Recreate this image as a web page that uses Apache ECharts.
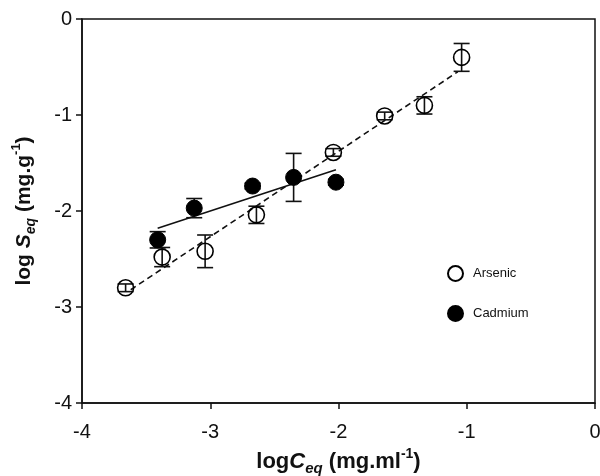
<!DOCTYPE html>
<html>
<head>
<meta charset="utf-8">
<script src="https://cdn.jsdelivr.net/npm/echarts@6/dist/echarts.min.js"></script>
<style>
html,body{margin:0;padding:0;background:#fff;}
#c{width:600px;height:476px;}
</style>
</head>
<body>
<div id="c"></div>
<script>
// ---- data ----
var arsenicX = [-3.66, -3.375, -3.04, -2.64, -2.04, -1.64, -1.33, -1.04];
var arsenicY = [-2.80, -2.48, -2.42, -2.04, -1.39, -1.01, -0.90, -0.40];
var arsenicErr = [0.04, 0.10, 0.17, 0.09, 0.04, 0.04, 0.09, 0.145];

var cadmiumX = [-3.41, -3.125, -2.67, -2.35, -2.02];
var cadmiumY = [-2.30, -1.97, -1.74, -1.65, -1.70];
var cadmiumErr = [0.085, 0.10, 0.03, 0.25, 0.03];

var arsenicFitX = [-3.62, -1.07];
var arsenicFitY = [-2.82, -0.55];
var cadmiumFitX = [-3.41, -2.02];
var cadmiumFitY = [-2.18, -1.57];

var xTicks = [-4, -3, -2, -1, 0];
var yTicks = [-4, -3, -2, -1, 0];

function pairs(xs, ys) { return xs.map(function (x, i) { return [x, ys[i]]; }); }
function errData(xs, ys, es) { return xs.map(function (x, i) { return [x, ys[i] - es[i], ys[i] + es[i]]; }); }

function errRender(params, api) {
  var x = api.value(0);
  var lo = api.coord([x, api.value(1)]);
  var hi = api.coord([x, api.value(2)]);
  var hw = 8;
  var st = { stroke: '#111', lineWidth: 1.6 };
  return {
    type: 'group',
    children: [
      { type: 'line', shape: { x1: lo[0], y1: lo[1], x2: hi[0], y2: hi[1] }, style: st },
      { type: 'line', shape: { x1: lo[0] - hw, y1: lo[1], x2: lo[0] + hw, y2: lo[1] }, style: st },
      { type: 'line', shape: { x1: hi[0] - hw, y1: hi[1], x2: hi[0] + hw, y2: hi[1] }, style: st }
    ]
  };
}

var font = '"Liberation Sans", Arial, sans-serif';
function makeRich(fs) {
  var lh = Math.round(fs * 1.2);
  return {
    b: { fontFamily: font, fontWeight: 'bold', fontSize: fs, color: '#111', lineHeight: lh, verticalAlign: 'bottom' },
    bi: { fontFamily: font, fontWeight: 'bold', fontStyle: 'italic', fontSize: fs, color: '#111', lineHeight: lh, verticalAlign: 'bottom' },
    sub: { fontFamily: font, fontWeight: 'bold', fontStyle: 'italic', fontSize: Math.round(fs * 0.68), color: '#111', lineHeight: lh, verticalAlign: 'bottom', padding: [0, 0, -3, 0] },
    sup: { fontFamily: font, fontWeight: 'bold', fontSize: Math.round(fs * 0.64), color: '#111', lineHeight: lh, verticalAlign: 'top' }
  };
}

var chart = echarts.init(document.getElementById('c'));
chart.setOption({
  animation: false,
  backgroundColor: '#fff',
  grid: { left: 82, right: 5, top: 19, bottom: 73, containLabel: false, outerBoundsMode: 'none',
    show: true, borderColor: '#111', borderWidth: 1.5, backgroundColor: 'transparent' },
  legend: {
    data: ['Arsenic', 'Cadmium'],
    orient: 'vertical',
    left: 442,
    top: 260,
    itemWidth: 15,
    itemHeight: 15,
    itemGap: 23,
    textStyle: { fontFamily: font, fontSize: 13, color: '#111', padding: [0, 0, 0, 5] }
  },
  xAxis: {
    type: 'value', min: -4, max: 0, interval: 1,
    name: '{b|log}{bi|C}{sub|eq}{b| (mg.ml}{sup|-1}{b|)}',
    nameLocation: 'middle', nameGap: 44,
    nameTextStyle: { rich: makeRich(22) },
    axisLine: { onZero: false, lineStyle: { color: '#111', width: 1.5 } },
    axisTick: { inside: false, length: 6, lineStyle: { color: '#111', width: 1.5 } },
    axisLabel: { fontFamily: font, fontSize: 20, color: '#111', margin: 19,
      formatter: function (v) { return xTicks.indexOf(v) >= 0 ? String(v) : ''; } },
    splitLine: { show: false }
  },
  yAxis: {
    type: 'value', min: -4, max: 0, interval: 1,
    name: '{b|log }{bi|S}{sub|eq}{b| (mg.g}{sup|-1}{b|)}',
    nameLocation: 'middle', nameGap: 47, nameRotate: 90,
    nameTextStyle: { rich: makeRich(21) },
    axisLine: { onZero: false, lineStyle: { color: '#111', width: 1.5 } },
    axisTick: { inside: false, length: 6, lineStyle: { color: '#111', width: 1.5 } },
    axisLabel: { fontFamily: font, fontSize: 20, color: '#111', margin: 10,
      formatter: function (v) { return yTicks.indexOf(v) >= 0 ? String(v) : ''; } },
    splitLine: { show: false }
  },
  series: [
    { name: 'ArsenicFit', type: 'line', data: pairs(arsenicFitX, arsenicFitY), symbol: 'none',
      lineStyle: { color: '#111', width: 1.6, type: [6, 4] }, z: 2 },
    { name: 'CadmiumFit', type: 'line', data: pairs(cadmiumFitX, cadmiumFitY), symbol: 'none',
      lineStyle: { color: '#111', width: 1.6, type: 'solid' }, z: 2 },
    { name: 'ArsenicErr', type: 'custom', renderItem: errRender, data: errData(arsenicX, arsenicY, arsenicErr), z: 3 },
    { name: 'CadmiumErr', type: 'custom', renderItem: errRender, data: errData(cadmiumX, cadmiumY, cadmiumErr), z: 3 },
    { name: 'Arsenic', type: 'scatter', data: pairs(arsenicX, arsenicY), symbol: 'circle', symbolSize: 16,
      itemStyle: { color: 'rgba(255,255,255,0)', borderColor: '#000', borderWidth: 1.6, opacity: 1 }, z: 4 },
    { name: 'Cadmium', type: 'scatter', data: pairs(cadmiumX, cadmiumY), symbol: 'circle', symbolSize: 16,
      itemStyle: { color: '#000', borderColor: '#000', borderWidth: 1, opacity: 1 }, z: 4 }
  ]
});
</script>
</body>
</html>
